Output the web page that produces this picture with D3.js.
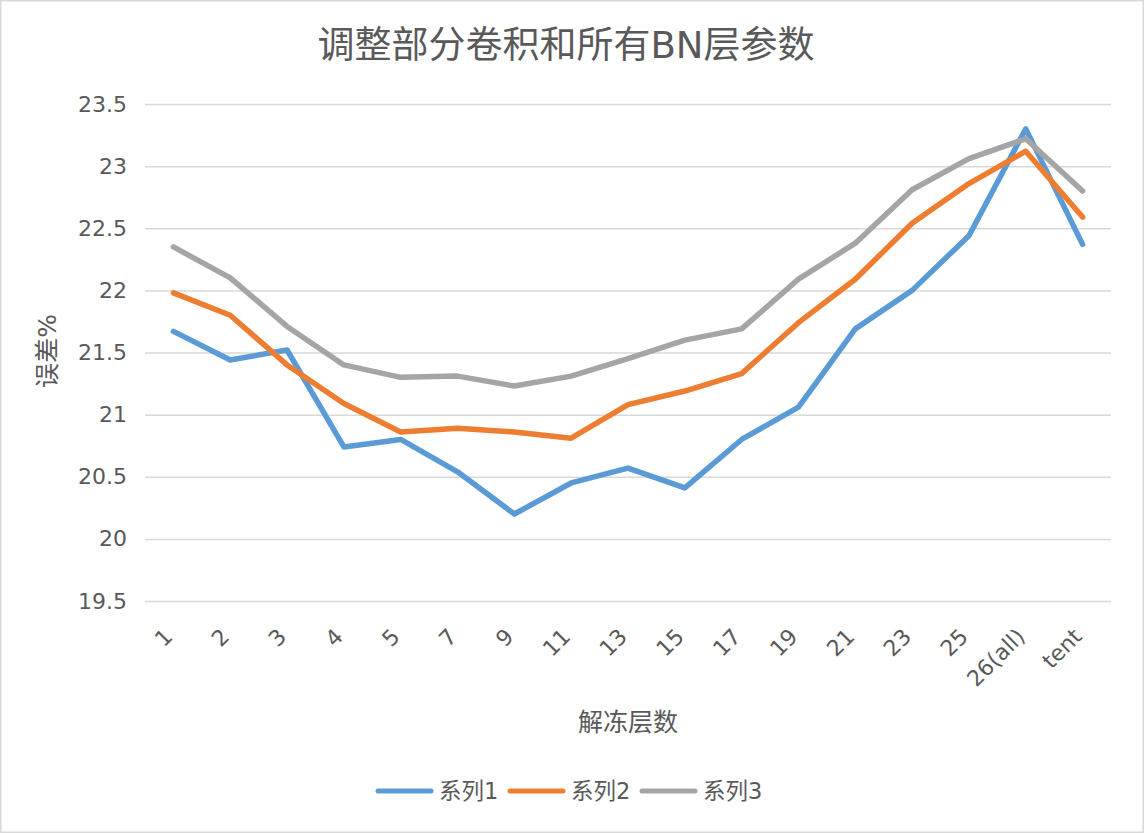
<!DOCTYPE html>
<html>
<head>
<meta charset="utf-8">
<script src="https://cdn.jsdelivr.net/npm/d3@7"></script>
<style>
  html, body { margin: 0; padding: 0; background: #fff; }
  svg text { font-family: "DejaVu Sans", "Noto Sans CJK SC", sans-serif; fill: #595959; }
</style>
</head>
<body>
<svg id="chart" width="1144" height="833"></svg>
<script>
// categories (x axis)
var layers = ['1', '2', '3', '4', '5', '7', '9', '11', '13', '15', '17', '19', '21', '23', '25', '26(all)', 'tent'];
// series values
var series1 = [21.67, 21.44, 21.52, 20.74, 20.80, 20.54, 20.20, 20.45, 20.57, 20.41, 20.80, 21.06, 21.69, 22.00, 22.44, 23.30, 22.37];
var series2 = [21.98, 21.80, 21.40, 21.09, 20.86, 20.89, 20.86, 20.81, 21.08, 21.19, 21.33, 21.74, 22.09, 22.54, 22.86, 23.12, 22.59];
var series3 = [22.35, 22.10, 21.71, 21.40, 21.30, 21.31, 21.23, 21.31, 21.45, 21.60, 21.69, 22.09, 22.38, 22.81, 23.06, 23.22, 22.80];
var seriesNames = ['系列1', '系列2', '系列3'];
var seriesColors = ['#5b9bd5', '#ed7d31', '#a5a5a5'];
var yTicks = [19.5, 20, 20.5, 21, 21.5, 22, 22.5, 23, 23.5];

var W = 1144, H = 833;
var margin = { top: 104, right: 33, bottom: 232, left: 145 };
var innerW = W - margin.left - margin.right;
var innerH = H - margin.top - margin.bottom;

var svg = d3.select('#chart');

// outer chart border
svg.append('rect')
    .attr('x', 0.75).attr('y', 0.75)
    .attr('width', W - 1.5).attr('height', H - 1.5)
    .attr('fill', '#fff')
    .attr('stroke', '#d9d9d9')
    .attr('stroke-width', 1.5);

svg.append('text')
    .attr('x', 566).attr('y', 58)
    .attr('text-anchor', 'middle')
    .style('font-size', '37px')
    .text('调整部分卷积和所有BN层参数');

var g = svg.append('g').attr('transform', 'translate(' + margin.left + ',' + margin.top + ')');

var x = d3.scalePoint().domain(layers).range([0, innerW]).padding(0.5);
var y = d3.scaleLinear().domain([19.5, 23.5]).range([innerH, 0]);

// gridlines + y labels
var yAxis = g.append('g')
    .call(d3.axisLeft(y).tickValues(yTicks).tickSize(-innerW).tickPadding(18).tickFormat(d3.format('')));
yAxis.select('.domain').remove();
yAxis.selectAll('.tick line').attr('stroke', '#d9d9d9').attr('stroke-width', 1.5);
yAxis.selectAll('.tick text').style('font-size', '22px').attr('fill', '#595959');

// x labels, rotated
var xAxis = g.append('g')
    .attr('transform', 'translate(0,' + innerH + ')')
    .call(d3.axisBottom(x).tickSize(0).tickPadding(0));
xAxis.select('.domain').remove();
xAxis.selectAll('.tick text')
    .style('font-size', '22px')
    .attr('fill', '#595959')
    .attr('text-anchor', 'end')
    .attr('dy', '0')
    .attr('transform', 'translate(0,37) rotate(-45)');

var line = d3.line()
    .x(function (d, i) { return x(layers[i]); })
    .y(function (d) { return y(d); });

[series1, series2, series3].forEach(function (s, i) {
    g.append('path')
        .datum(s)
        .attr('fill', 'none')
        .attr('stroke', seriesColors[i])
        .attr('stroke-width', 5.5)
        .attr('stroke-linejoin', 'round')
        .attr('stroke-linecap', 'round')
        .attr('d', line);
});

// axis titles
svg.append('text')
    .attr('x', margin.left + innerW / 2).attr('y', 731)
    .attr('text-anchor', 'middle')
    .style('font-size', '25px')
    .text('解冻层数');

svg.append('text')
    .attr('transform', 'translate(56,351) rotate(-90)')
    .attr('text-anchor', 'middle')
    .style('font-size', '25px')
    .text('误差%');

// legend
var legendX = [376, 508, 640];
var legend = svg.append('g');
seriesNames.forEach(function (name, i) {
    legend.append('line')
        .attr('x1', legendX[i] + 2).attr('x2', legendX[i] + 55)
        .attr('y1', 791).attr('y2', 791)
        .attr('stroke', seriesColors[i])
        .attr('stroke-width', 5)
        .attr('stroke-linecap', 'round');
    legend.append('text')
        .attr('x', legendX[i] + 63).attr('y', 799)
        .style('font-size', '22.5px')
        .text(name);
});
</script>
</body>
</html>
